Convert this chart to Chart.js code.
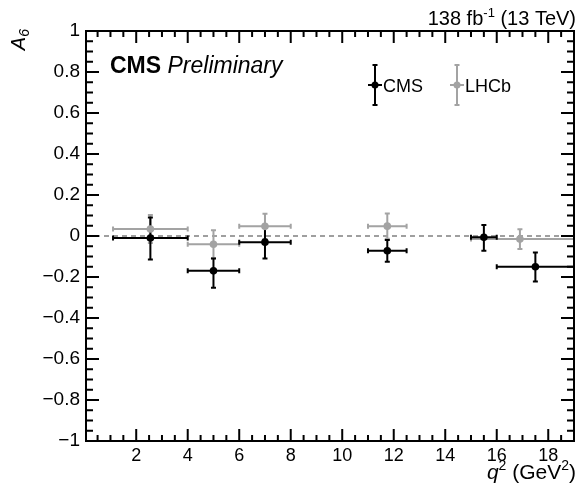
<!DOCTYPE html>
<html>
<head>
<meta charset="utf-8">
<script src="https://cdn.jsdelivr.net/npm/chart.js@4"></script>
<style>
  body { margin: 0; background: #fff; }
  #wrap { width: 578px; height: 492px; }
</style>
</head>
<body>
<div id="wrap"><canvas id="plot" width="578" height="492"></canvas></div>
<script>
// ===== DATA =====
const xTicks = [2, 4, 6, 8, 10, 12, 14, 16, 18];
const yTicks = [-1, -0.8, -0.6, -0.4, -0.2, 0, 0.2, 0.4, 0.6, 0.8, 1];

// CMS measurement
const cmsX = [2.55, 5.0, 7.0, 11.75, 15.5, 17.5];
const cmsXLow = [1.1, 4, 6, 11, 15, 16];
const cmsXHigh = [4, 6, 8, 12.5, 16, 19];
const cmsY = [-0.01, -0.17, -0.03, -0.072, -0.006, -0.15];
const cmsErrUp = [0.1, 0.06, 0.07, 0.052, 0.06, 0.07];
const cmsErrDown = [0.105, 0.083, 0.08, 0.053, 0.066, 0.072];

// LHCb measurement
const lhcbX = [2.55, 5.0, 7.0, 11.75, 16.9];
const lhcbXLow = [1.1, 4, 6, 11, 15];
const lhcbXHigh = [4, 6, 8, 12.5, 19];
const lhcbY = [0.034, -0.04, 0.047, 0.048, -0.015];
const lhcbErrUp = [0.068, 0.068, 0.062, 0.062, 0.048];
const lhcbErrDown = [0.068, 0.068, 0.062, 0.062, 0.048];

const BLACK = '#000000';
const GREY = '#a3a3a3';
const FONT = '"Liberation Sans", Arial, Helvetica, sans-serif';

function points(xs, ys) {
    return xs.map((x, i) => ({ x: x, y: ys[i] }));
}

// draw a string made of pieces with their own font / vertical shift
function drawPieces(ctx, pieces, x, y, align) {
    let total = 0;
    pieces.forEach(p => { ctx.font = p.font; total += ctx.measureText(p.t).width; });
    let cx = align === 'right' ? x - total : x;
    ctx.textAlign = 'left';
    ctx.textBaseline = 'alphabetic';
    pieces.forEach(p => {
        ctx.font = p.font;
        ctx.fillText(p.t, cx, y + (p.dy || 0));
        cx += ctx.measureText(p.t).width;
    });
}

// ===== ERROR BARS =====
function drawErrors(ctx, xs, sx, sy, lo, hi, ys, up, down, color) {
    ctx.save();
    ctx.strokeStyle = color;
    ctx.lineWidth = 2;
    const cap = 2.5;
    xs.forEach((x, i) => {
        const px = sx.getPixelForValue(x);
        const py = sy.getPixelForValue(ys[i]);
        const xl = sx.getPixelForValue(lo[i]);
        const xr = sx.getPixelForValue(hi[i]);
        const yt = sy.getPixelForValue(ys[i] + up[i]);
        const yb = sy.getPixelForValue(ys[i] - down[i]);
        ctx.beginPath();
        ctx.moveTo(xl, py); ctx.lineTo(xr, py);
        ctx.moveTo(px, yt); ctx.lineTo(px, yb);
        // small end caps
        ctx.moveTo(xl, py - cap); ctx.lineTo(xl, py + cap);
        ctx.moveTo(xr, py - cap); ctx.lineTo(xr, py + cap);
        ctx.moveTo(px - cap, yt); ctx.lineTo(px + cap, yt);
        ctx.moveTo(px - cap, yb); ctx.lineTo(px + cap, yb);
        ctx.stroke();
    });
    ctx.restore();
}

const rootStyle = {
    id: 'rootStyle',
    beforeDatasetsDraw(chart) {
        const ctx = chart.ctx;
        const sx = chart.scales.x, sy = chart.scales.y;
        const a = chart.chartArea;

        // dashed line at zero
        ctx.save();
        ctx.strokeStyle = '#808080';
        ctx.lineWidth = 1.5;
        ctx.setLineDash([5, 4]);
        ctx.beginPath();
        const y0 = sy.getPixelForValue(0);
        ctx.moveTo(a.left, y0); ctx.lineTo(a.right, y0);
        ctx.stroke();
        ctx.restore();

        drawErrors(ctx, lhcbX, sx, sy, lhcbXLow, lhcbXHigh, lhcbY, lhcbErrUp, lhcbErrDown, GREY);
        drawErrors(ctx, cmsX, sx, sy, cmsXLow, cmsXHigh, cmsY, cmsErrUp, cmsErrDown, BLACK);
    },
    afterDraw(chart) {
        const ctx = chart.ctx;
        const sx = chart.scales.x, sy = chart.scales.y;
        const a = chart.chartArea;

        ctx.save();
        ctx.strokeStyle = BLACK;
        ctx.lineWidth = 2;
        ctx.strokeRect(a.left, a.top, a.right - a.left, a.bottom - a.top);

        // inward ticks on all four sides
        ctx.beginPath();
        for (let v = 0.5; v <= 19.001; v += 0.5) {
            const px = sx.getPixelForValue(v);
            const len = Math.abs(v % 2) < 1e-6 ? 12 : 6;
            ctx.moveTo(px, a.bottom); ctx.lineTo(px, a.bottom - len);
            ctx.moveTo(px, a.top); ctx.lineTo(px, a.top + len);
        }
        for (let k = -20; k <= 20; k++) {
            const v = k * 0.05;
            const py = sy.getPixelForValue(v);
            const len = k % 4 === 0 ? 13 : 7;
            ctx.moveTo(a.left, py); ctx.lineTo(a.left + len, py);
            ctx.moveTo(a.right, py); ctx.lineTo(a.right - len, py);
        }
        ctx.stroke();

        ctx.fillStyle = BLACK;

        // CMS label
        drawPieces(ctx, [
            { t: 'CMS ', font: 'bold 23px ' + FONT },
            { t: 'Preliminary', font: 'italic 23px ' + FONT }
        ], 110, 73, 'left');

        // luminosity label
        drawPieces(ctx, [
            { t: '138 fb', font: '20px ' + FONT },
            { t: '-1', font: '13px ' + FONT, dy: -8 },
            { t: ' (13 TeV)', font: '20px ' + FONT }
        ], 576, 25, 'right');

        // x-axis title
        drawPieces(ctx, [
            { t: 'q', font: 'italic 21px ' + FONT },
            { t: '2', font: '14px ' + FONT, dy: -9 },
            { t: ' (GeV', font: '21px ' + FONT },
            { t: '2', font: '14px ' + FONT, dy: -9 },
            { t: ')', font: '21px ' + FONT }
        ], 576, 479, 'right');

        // y-axis title
        ctx.save();
        ctx.translate(25, 29);
        ctx.rotate(-Math.PI / 2);
        drawPieces(ctx, [
            { t: 'A', font: 'italic 20px ' + FONT },
            { t: '6', font: 'italic 14px ' + FONT, dy: 4 }
        ], 0, 0, 'right');
        ctx.restore();

        // legend
        const items = [
            { label: 'CMS', color: BLACK, x: 375 },
            { label: 'LHCb', color: GREY, x: 457 }
        ];
        const ly = 85;
        items.forEach(it => {
            ctx.strokeStyle = it.color;
            ctx.fillStyle = it.color;
            ctx.lineWidth = 2;
            ctx.beginPath();
            ctx.moveTo(it.x, ly - 20); ctx.lineTo(it.x, ly + 20);
            ctx.moveTo(it.x - 2.5, ly - 20); ctx.lineTo(it.x + 2.5, ly - 20);
            ctx.moveTo(it.x - 2.5, ly + 20); ctx.lineTo(it.x + 2.5, ly + 20);
            ctx.moveTo(it.x - 7, ly); ctx.lineTo(it.x + 7, ly);
            ctx.stroke();
            ctx.beginPath();
            ctx.arc(it.x, ly, 3.5, 0, Math.PI * 2);
            ctx.fill();
            ctx.fillStyle = BLACK;
            drawPieces(ctx, [{ t: it.label, font: '18px ' + FONT }], it.x + 8, ly + 7, 'left');
        });
        ctx.restore();
    }
};

function fmt(v) {
    const s = String(Math.round(v * 10) / 10);
    return s.replace('-', '\u2212');
}

const ctx = document.getElementById('plot').getContext('2d');
const chart = new Chart(ctx, {
    type: 'scatter',
    data: {
        datasets: [
            {
                label: 'CMS',
                data: points(cmsX, cmsY),
                pointRadius: 3.8,
                pointBackgroundColor: BLACK,
                pointBorderColor: BLACK,
                pointBorderWidth: 0
            },
            {
                label: 'LHCb',
                data: points(lhcbX, lhcbY),
                pointRadius: 3.8,
                pointBackgroundColor: GREY,
                pointBorderColor: GREY,
                pointBorderWidth: 0
            }
        ]
    },
    options: {
        responsive: false,
        animation: false,
        events: [],
        layout: { padding: { left: 0, top: 31, right: 3, bottom: 0 } },
        plugins: {
            legend: { display: false },
            tooltip: { enabled: false }
        },
        scales: {
            x: {
                type: 'linear',
                min: 0.05,
                max: 19,
                afterBuildTicks: s => { s.ticks = xTicks.map(v => ({ value: v })); },
                afterFit: s => { s.height = 51; },
                grid: { display: false, drawTicks: false },
                border: { display: false },
                ticks: {
                    color: BLACK,
                    padding: 4,
                    maxRotation: 0,
                    autoSkip: false,
                    font: { family: FONT, size: 18 },
                    callback: v => fmt(v)
                }
            },
            y: {
                type: 'linear',
                min: -1,
                max: 1,
                afterBuildTicks: s => { s.ticks = yTicks.map(v => ({ value: v })); },
                afterFit: s => { s.width = 86; },
                grid: { display: false, drawTicks: false },
                border: { display: false },
                ticks: {
                    color: BLACK,
                    padding: 6,
                    autoSkip: false,
                    font: { family: FONT, size: 19 },
                    callback: v => fmt(v)
                }
            }
        }
    },
    plugins: [rootStyle]
});
</script>
</body>
</html>
